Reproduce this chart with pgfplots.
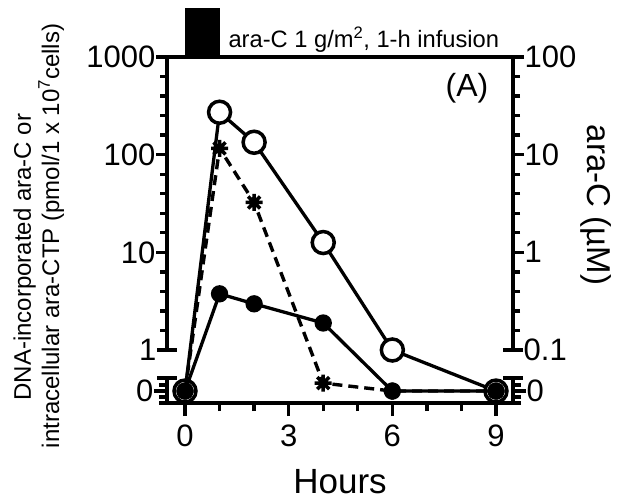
\documentclass[border=0pt]{standalone}
\usepackage{fontspec}
\setmainfont{Liberation Sans}
\usepackage{pgfplots}
\pgfplotsset{compat=1.18}

\newcommand\tickf{\fontsize{31}{35}\selectfont}

% eight-armed asterisk like the original figure
\pgfdeclareplotmark{ast8}{%
  \pgfpathmoveto{\pgfqpoint{-\pgfplotmarksize}{0pt}}%
  \pgfpathlineto{\pgfqpoint{\pgfplotmarksize}{0pt}}%
  \pgfpathmoveto{\pgfqpoint{0pt}{-\pgfplotmarksize}}%
  \pgfpathlineto{\pgfqpoint{0pt}{\pgfplotmarksize}}%
  \pgfpathmoveto{\pgfqpointpolar{45}{\pgfplotmarksize}}%
  \pgfpathlineto{\pgfqpointpolar{225}{\pgfplotmarksize}}%
  \pgfpathmoveto{\pgfqpointpolar{135}{\pgfplotmarksize}}%
  \pgfpathlineto{\pgfqpointpolar{315}{\pgfplotmarksize}}%
  \pgfusepathqstroke}

\pgfplotsset{
  base/.style={
    scale only axis, width=346pt, xmin=-0.521, xmax=9.492, clip=false,
    axis line style={-, line width=3.3pt},
    every outer x axis line/.append style={-},
    every outer y axis line/.append style={-},
    tick style={line width=3.3pt, black},
    tick align=outside,
    ticklabel style={font=\tickf, inner sep=0.5pt},
    major tick length=11pt, minor tick length=7pt,
    extra y tick style={tick align=center, major tick length=20pt},
  },
}

% zero values are drawn on the broken lower segment: 0.38 (left), 0.038 (right)
\begin{document}
\begin{tikzpicture}
\useasboundingbox (0,0) rectangle (621pt,501pt);

% right axis: plasma ara-C (uM)
\begin{axis}[base, at={(167pt,151pt)}, anchor=south west, height=293pt,
  ymode=log, ymin=0.1, ymax=100,
  axis y line*=right, axis x line=none,
  ytick={1,10,100}, yticklabels={1,10,100},
  extra y ticks={0.1}, extra y tick labels={0.1},
  minor ytick={0.1585,0.2512,0.3981,0.631,1.585,2.512,3.981,6.31,15.85,25.12,39.81,63.1},
]
\addplot[line width=3.3pt, mark=*, mark size=11pt, mark options={fill=white, line width=3.5pt}]
  coordinates {(0,0.038) (1,27.2) (2,13.4) (4,1.26) (6,0.1) (9,0.038)};
\end{axis}

% left axis: DNA-incorporated ara-C / ara-CTP
\begin{axis}[base, at={(167pt,151pt)}, anchor=south west, height=293pt,
  ymode=log, ymin=1, ymax=1000,
  axis y line*=left, axis x line*=top, xtick=\empty,
  ytick={10,100,1000}, yticklabels={10,100,1000},
  extra y ticks={1}, extra y tick labels={1},
  minor ytick={1.585,2.512,3.981,6.31,15.85,25.12,39.81,63.1,158.5,251.2,398.1,631},
]
% infusion bar, 0-1 h
\addplot[fill=black, draw=none] coordinates {(0,1000) (0,3175) (1,3175) (1,1000)} -- cycle;
\addplot[line width=3.4pt, dash pattern=on 10pt off 6pt, mark=ast8, mark size=8.5pt,
  mark options={solid, line width=3.5pt}]
  coordinates {(0,0.38) (1,116) (2,32.4) (4,0.458) (6,0.38) (9,0.38)};
\addplot[line width=3.3pt, mark=*, mark size=7pt]
  coordinates {(0,0.38) (1,3.76) (2,2.97) (4,1.89) (6,0.38) (9,0.38)};
\end{axis}

% lower segment, left, with the x axis
\begin{axis}[base, at={(167pt,98pt)}, anchor=south west, height=25pt,
  ymin=-12, ymax=13,
  axis x line*=bottom, axis y line*=left,
  xtick={0,3,6,9}, xticklabels={0,3,6,9}, minor xtick={1,2,4,5,7,8},
  xticklabel style={yshift=-8pt},
  major tick length=13pt, minor tick length=8pt,
  ytick={0}, yticklabels={0}, minor ytick={-12,-6,6},
  extra y ticks={13}, extra y tick labels={},
]
\end{axis}

% lower segment, right
\begin{axis}[base, at={(167pt,98pt)}, anchor=south west, height=25pt,
  ymin=-12, ymax=13,
  axis y line*=right, axis x line=none,
  major tick length=13pt, minor tick length=8pt,
  ytick={0}, yticklabels={0}, minor ytick={-12,-6,6},
  extra y ticks={13}, extra y tick labels={},
]
\end{axis}

\node[anchor=base west, font=\fontsize{23.7}{28}\selectfont] at (225pt,453pt)
  {ara-C 1 g/m\textsuperscript{2}, 1-h infusion};
\node[font=\fontsize{32}{36}\selectfont] at (467pt,413pt) {(A)};
\node[anchor=base, font=\fontsize{35}{40}\selectfont] at (340pt,8pt) {Hours};
\node[rotate=90, anchor=base, font=\fontsize{24}{29}\selectfont] at (31pt,244pt)
  {DNA-incorporated ara-C or};
\node[rotate=90, anchor=base, font=\fontsize{24}{29}\selectfont] at (59pt,265pt)
  {intracellular ara-CTP (pmol/1 x 10\textsuperscript{7}cells)};
\node[rotate=-90, font=\fontsize{33}{38}\selectfont] at (596pt,296pt) {ara-C (µM)};
\end{tikzpicture}
\end{document}
